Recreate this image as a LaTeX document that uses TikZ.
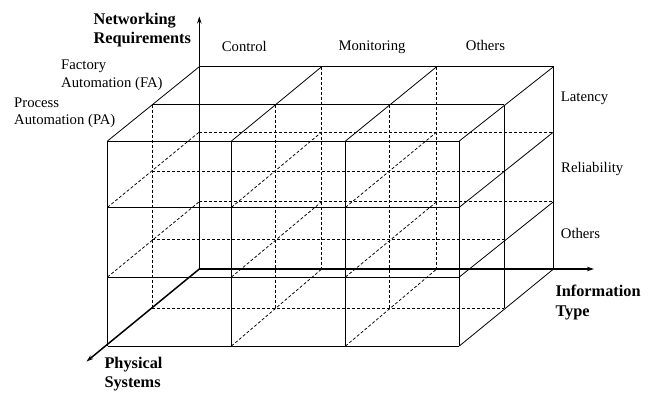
\documentclass[tikz,border=0pt]{standalone}
\usepackage{fontspec}
\setmainfont{Liberation Serif}
\usetikzlibrary{arrows.meta}
\tikzset{
  boxline/.style={line width=0.8pt, black},
  hidden/.style={line width=0.75pt, black, dash pattern=on 3pt off 2pt},
  axisline/.style={line width=1.5pt, black, -{Stealth[length=7pt,width=4.5pt]}},
  lbl/.style={anchor=base west, inner sep=0pt, align=left, font=\fontsize{14.7}{17.7}\selectfont},
  axlbl/.style={anchor=base west, inner sep=0pt, align=left, font=\fontsize{16.3}{19.3}\selectfont\bfseries},
}
\begin{document}
\begin{tikzpicture}[x=1pt,y=1pt]
\useasboundingbox (0,0) rectangle (655,-392);
\def\XF{{107.5,231.5,345.5,459.3}}
\def\XM{{152.3,275,389.3,504.3}}
\def\XB{{199.3,321.7,436.7,553.5}}
\def\YF{{141,207.3,277,346}}
\def\YM{{104.7,171.3,239.5,308.3}}
\def\YB{{66.7,132,201.7,269}}
\foreach \i in {0,...,3}{
  \foreach \j in {0,...,3}{
    \pgfmathsetmacro\xa{\XF[\i]}\pgfmathsetmacro\ya{\YF[\j]}
    \coordinate (p\i\j0) at (\xa,-\ya);
    \pgfmathsetmacro\xb{\XM[\i]}\pgfmathsetmacro\yb{\YM[\j]}
    \coordinate (p\i\j1) at (\xb,-\yb);
    \pgfmathsetmacro\xc{\XB[\i]}\pgfmathsetmacro\yc{\YB[\j]}
    \coordinate (p\i\j2) at (\xc,-\yc);
  }
}
% hidden lines
\foreach \i in {1,2}{\draw[hidden] (p\i02) -- (p\i32);}
\foreach \j in {1,2}{\draw[hidden] (p0\j2) -- (p3\j2);}
\foreach \i in {0,1,2}{\draw[hidden] (p\i01) -- (p\i31);}
\foreach \j in {1,2,3}{\draw[hidden] (p0\j1) -- (p3\j1);}
\foreach \i in {0,1,2}{\foreach \j in {1,2}{\draw[hidden] (p\i\j0) -- (p\i\j2);}}
\foreach \i in {1,2}{\draw[hidden] (p\i30) -- (p\i32);}
% visible lines
\foreach \i in {0,...,3}{\draw[boxline] (p\i00) -- (p\i30);}
\foreach \j in {0,...,3}{\draw[boxline] (p0\j0) -- (p3\j0);}
\foreach \i in {0,...,3}{\draw[boxline] (p\i00) -- (p\i02);}
\foreach \k in {1,2}{\draw[boxline] (p00\k) -- (p30\k);}
\foreach \k in {1,2}{\draw[boxline] (p30\k) -- (p33\k);}
\foreach \j in {1,2,3}{\draw[boxline] (p3\j0) -- (p3\j2);}
% axes
\coordinate (tipup) at (199.3,-16.5);
\coordinate (tipright) at (594,-269);
\coordinate (tipdown) at (86.5,-361.5);
\draw[axisline] (p032) -- (tipup);
\draw[axisline] (p032) -- (tipright);
\draw[axisline] (p032) -- (tipdown);
% labels (base anchor = baseline of last line)
\node[axlbl] (netreq) at (93.3,-43.3) {Networking\\Requirements};
\node[axlbl] (infotype) at (555.3,-316) {Information\\Type};
\node[axlbl] (physsys) at (104.3,-387.6) {Physical\\Systems};
\node[lbl] (control) at (221.7,-51.2) {Control};
\node[lbl] (monitoring) at (338.3,-50.3) {Monitoring};
\node[lbl] (othersTop) at (465.7,-50.5) {Others};
\node[lbl] (fa) at (61,-87.5) {Factory\\Automation (FA)};
\node[lbl] (pa) at (14,-124.7) {Process\\Automation (PA)};
\node[lbl] (latency) at (560.7,-101.4) {Latency};
\node[lbl] (reliability) at (561,-172) {Reliability};
\node[lbl] (othersRight) at (560.7,-238) {Others};
\end{tikzpicture}
\end{document}
